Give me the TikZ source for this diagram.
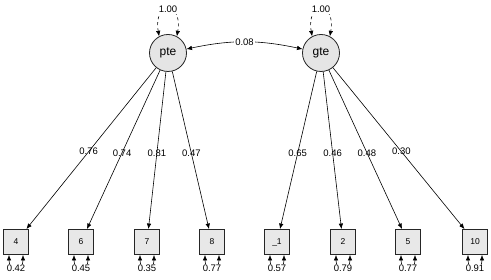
\documentclass[tikz,border=0pt]{standalone}
\usepackage{fontspec}
\setmainfont{Liberation Sans}
\usetikzlibrary{positioning, arrows.meta, calc}

\tikzset{
  latent/.style={circle, draw=black!85, line width=0.8pt, fill=gray!20, minimum size=37pt, inner sep=0pt, font=\fontsize{12}{14}\selectfont},
  manifest/.style={rectangle, draw=black!85, line width=0.9pt, fill=gray!18, minimum size=25pt, inner sep=0pt, font=\fontsize{8.5}{10}\selectfont},
  coef/.style={font=\fontsize{9.5}{11}\selectfont, inner sep=1pt},
  coefbg/.style={coef, fill=white},
  loadarrow/.style={-{Latex[length=5.5pt,width=4.5pt]}, line width=0.6pt},
  twoway/.style={{Latex[length=5.5pt,width=4.5pt]}-{Latex[length=5.5pt,width=4.5pt]}, line width=0.6pt}
}

\begin{document}
\begin{tikzpicture}[x=1pt, y=1pt]
  \useasboundingbox (0,0) rectangle (491,280);

  % Latent factors
  \node[latent] (pte) at (168,227) {pte};
  \node[latent] (gte) at (321,227) {gte};

  % Indicators with residual variances
  \foreach \name/\lbl/\px/\res in {i4/4/16/0.42, i6/6/81/0.45, i7/7/147/0.35, i8/8/212/0.77,
                                   i1/\_1/277/0.57, i2/2/343/0.79, i5/5/408/0.77, i10/10/475/0.91} {
    \node[manifest] (\name) at (\px,38) {\lbl};
    \draw[twoway] ([xshift=-7pt]\name.south) .. controls +(0,-18pt) and +(0,-18pt) ..
      node[coefbg, pos=0.5] {\res} ([xshift=7pt]\name.south);
  }

  % Factor loadings
  \foreach \lv/\ov/\val in {pte/i4/0.76, pte/i6/0.74, pte/i7/0.81, pte/i8/0.47,
                            gte/i1/0.65, gte/i2/0.46, gte/i5/0.48, gte/i10/0.30} {
    \draw[loadarrow] (\lv) -- node[coef, pos=0.52] {\val} (\ov);
  }

  % Factor variances
  \foreach \lv in {pte, gte} {
    \draw[twoway, dashed] (\lv.118) .. controls +(100:36pt) and +(80:36pt) ..
      node[coefbg, pos=0.5] {1.00} (\lv.62);
  }

  % Factor covariance
  \draw[twoway] (pte) to[bend left=12] node[coefbg] {0.08} (gte);
\end{tikzpicture}
\end{document}
